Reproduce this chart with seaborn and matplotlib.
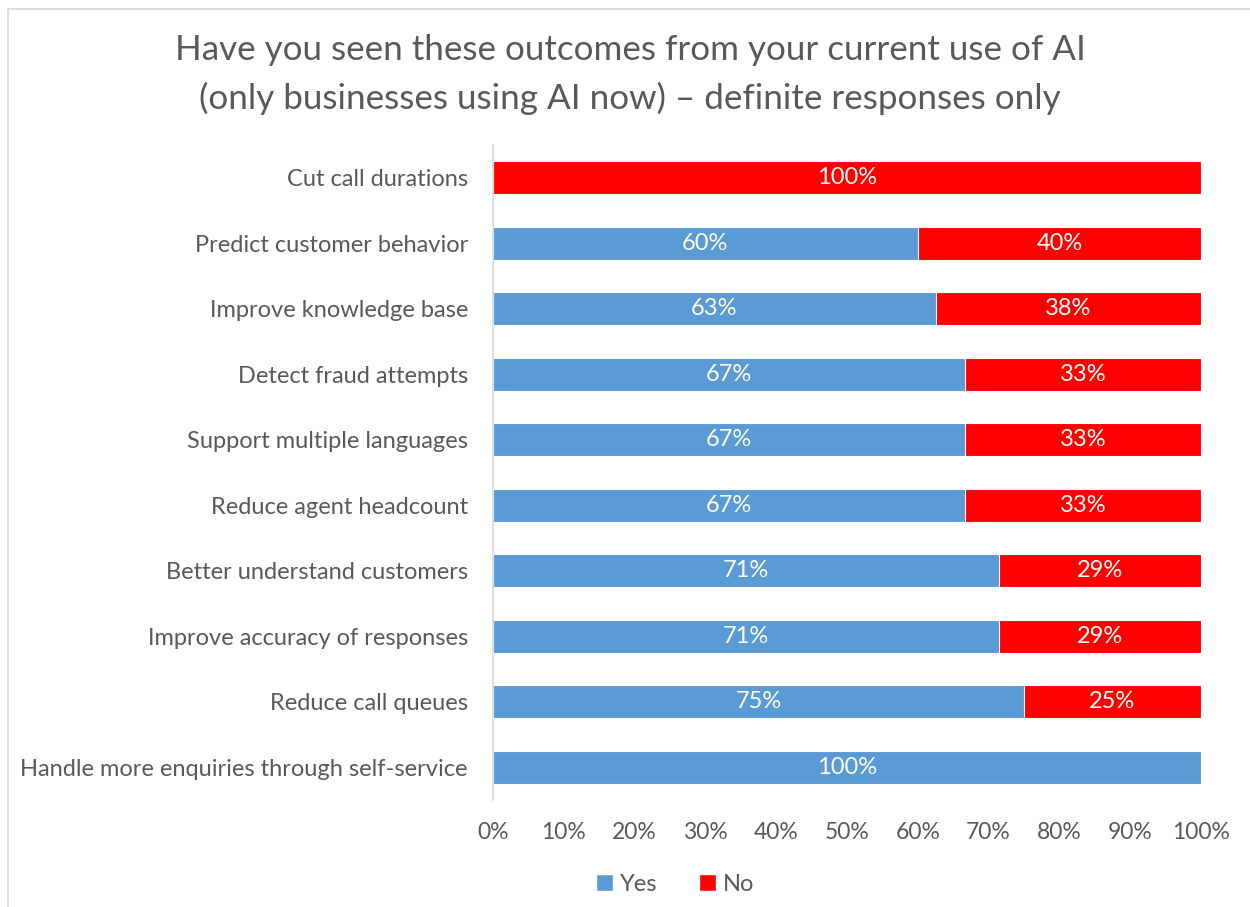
import matplotlib
matplotlib.use("Agg")
import matplotlib.pyplot as plt
import seaborn as sns
import pandas as pd
from matplotlib.patches import Rectangle
from matplotlib.lines import Line2D

categories = [
    "Cut call durations",
    "Predict customer behavior",
    "Improve knowledge base",
    "Detect fraud attempts",
    "Support multiple languages",
    "Reduce agent headcount",
    "Better understand customers",
    "Improve accuracy of responses",
    "Reduce call queues",
    "Handle more enquiries through self-service",
]
yes_pct = [0, 60, 62.5, 66.7, 66.7, 66.7, 71.4, 71.4, 75, 100]
no_pct = [100, 40, 37.5, 33.3, 33.3, 33.3, 28.6, 28.6, 25, 0]
x_ticks = [0, 10, 20, 30, 40, 50, 60, 70, 80, 90, 100]

BLUE = "#5B9BD5"
RED = "#FF0000"
GREY = "#595959"

sns.set_theme(style="white")
plt.rcParams["font.family"] = ["Lato", "DejaVu Sans"]

df = pd.DataFrame({"category": categories, "yes": yes_pct, "no": no_pct})
df["total"] = df["yes"] + df["no"]

fig = plt.figure(figsize=(12.5, 9.07), dpi=100)
ax = fig.add_axes([0.3944, 0.1180, 0.5664, 0.7221])

# Stacked bars: the full length in red, the "Yes" share drawn over it in blue
sns.barplot(data=df, y="category", x="total", orient="h", color=RED,
            width=0.5, saturation=1, edgecolor="white", linewidth=0.8, ax=ax)
sns.barplot(data=df, y="category", x="yes", orient="h", color=BLUE,
            width=0.5, saturation=1, edgecolor="white", linewidth=0.8, ax=ax)


def pct_label(v):
    return f"{int(v + 0.5)}%"


for i, (y, n) in enumerate(zip(df["yes"], df["no"])):
    if y > 0:
        ax.text(y / 2, i, pct_label(y), ha="center", va="center",
                color="white", fontsize=17)
    if n > 0:
        ax.text(y + n / 2, i, pct_label(n), ha="center", va="center",
                color="white", fontsize=17)

ax.set_xlim(0, 100)
ax.set_ylim(len(categories) - 0.5, -0.5)
ax.set_xticks(x_ticks)
ax.set_xticklabels([f"{t}%" for t in x_ticks])
ax.set_xlabel("")
ax.set_ylabel("")
ax.tick_params(axis="x", length=0, labelsize=16.5, labelcolor=GREY, pad=16)
ax.tick_params(axis="y", length=0, labelsize=17, labelcolor=GREY, pad=18)

for side in ("top", "right", "bottom"):
    ax.spines[side].set_visible(False)
ax.spines["left"].set_color("#D9D9D9")
ax.spines["left"].set_linewidth(1.2)

fig.text(0.504, 0.945, "Have you seen these outcomes from your current use of AI",
         ha="center", va="center", fontsize=25.2, color=GREY)
fig.text(0.504, 0.892, "(only businesses using AI now) \u2013 definite responses only",
         ha="center", va="center", fontsize=25.2, color=GREY)

handles = [Rectangle((0, 0), 1, 1, facecolor=BLUE),
           Rectangle((0, 0), 1, 1, facecolor=RED)]
fig.legend(handles, ["Yes", "No"], loc="center", bbox_to_anchor=(0.54, 0.025),
           ncol=2, frameon=False, fontsize=17, handlelength=0.72, handleheight=0.72,
           handletextpad=0.3, columnspacing=1.75, labelcolor=GREY)

# Chart border
fig.add_artist(Line2D([0.0064, 0.0064], [0.0, 0.990], color="#D9D9D9", lw=1.2,
                      transform=fig.transFigure))
fig.add_artist(Line2D([0.0064, 1.0], [0.990, 0.990], color="#D9D9D9", lw=1.2,
                      transform=fig.transFigure))

fig.savefig("out.png", dpi=100)
